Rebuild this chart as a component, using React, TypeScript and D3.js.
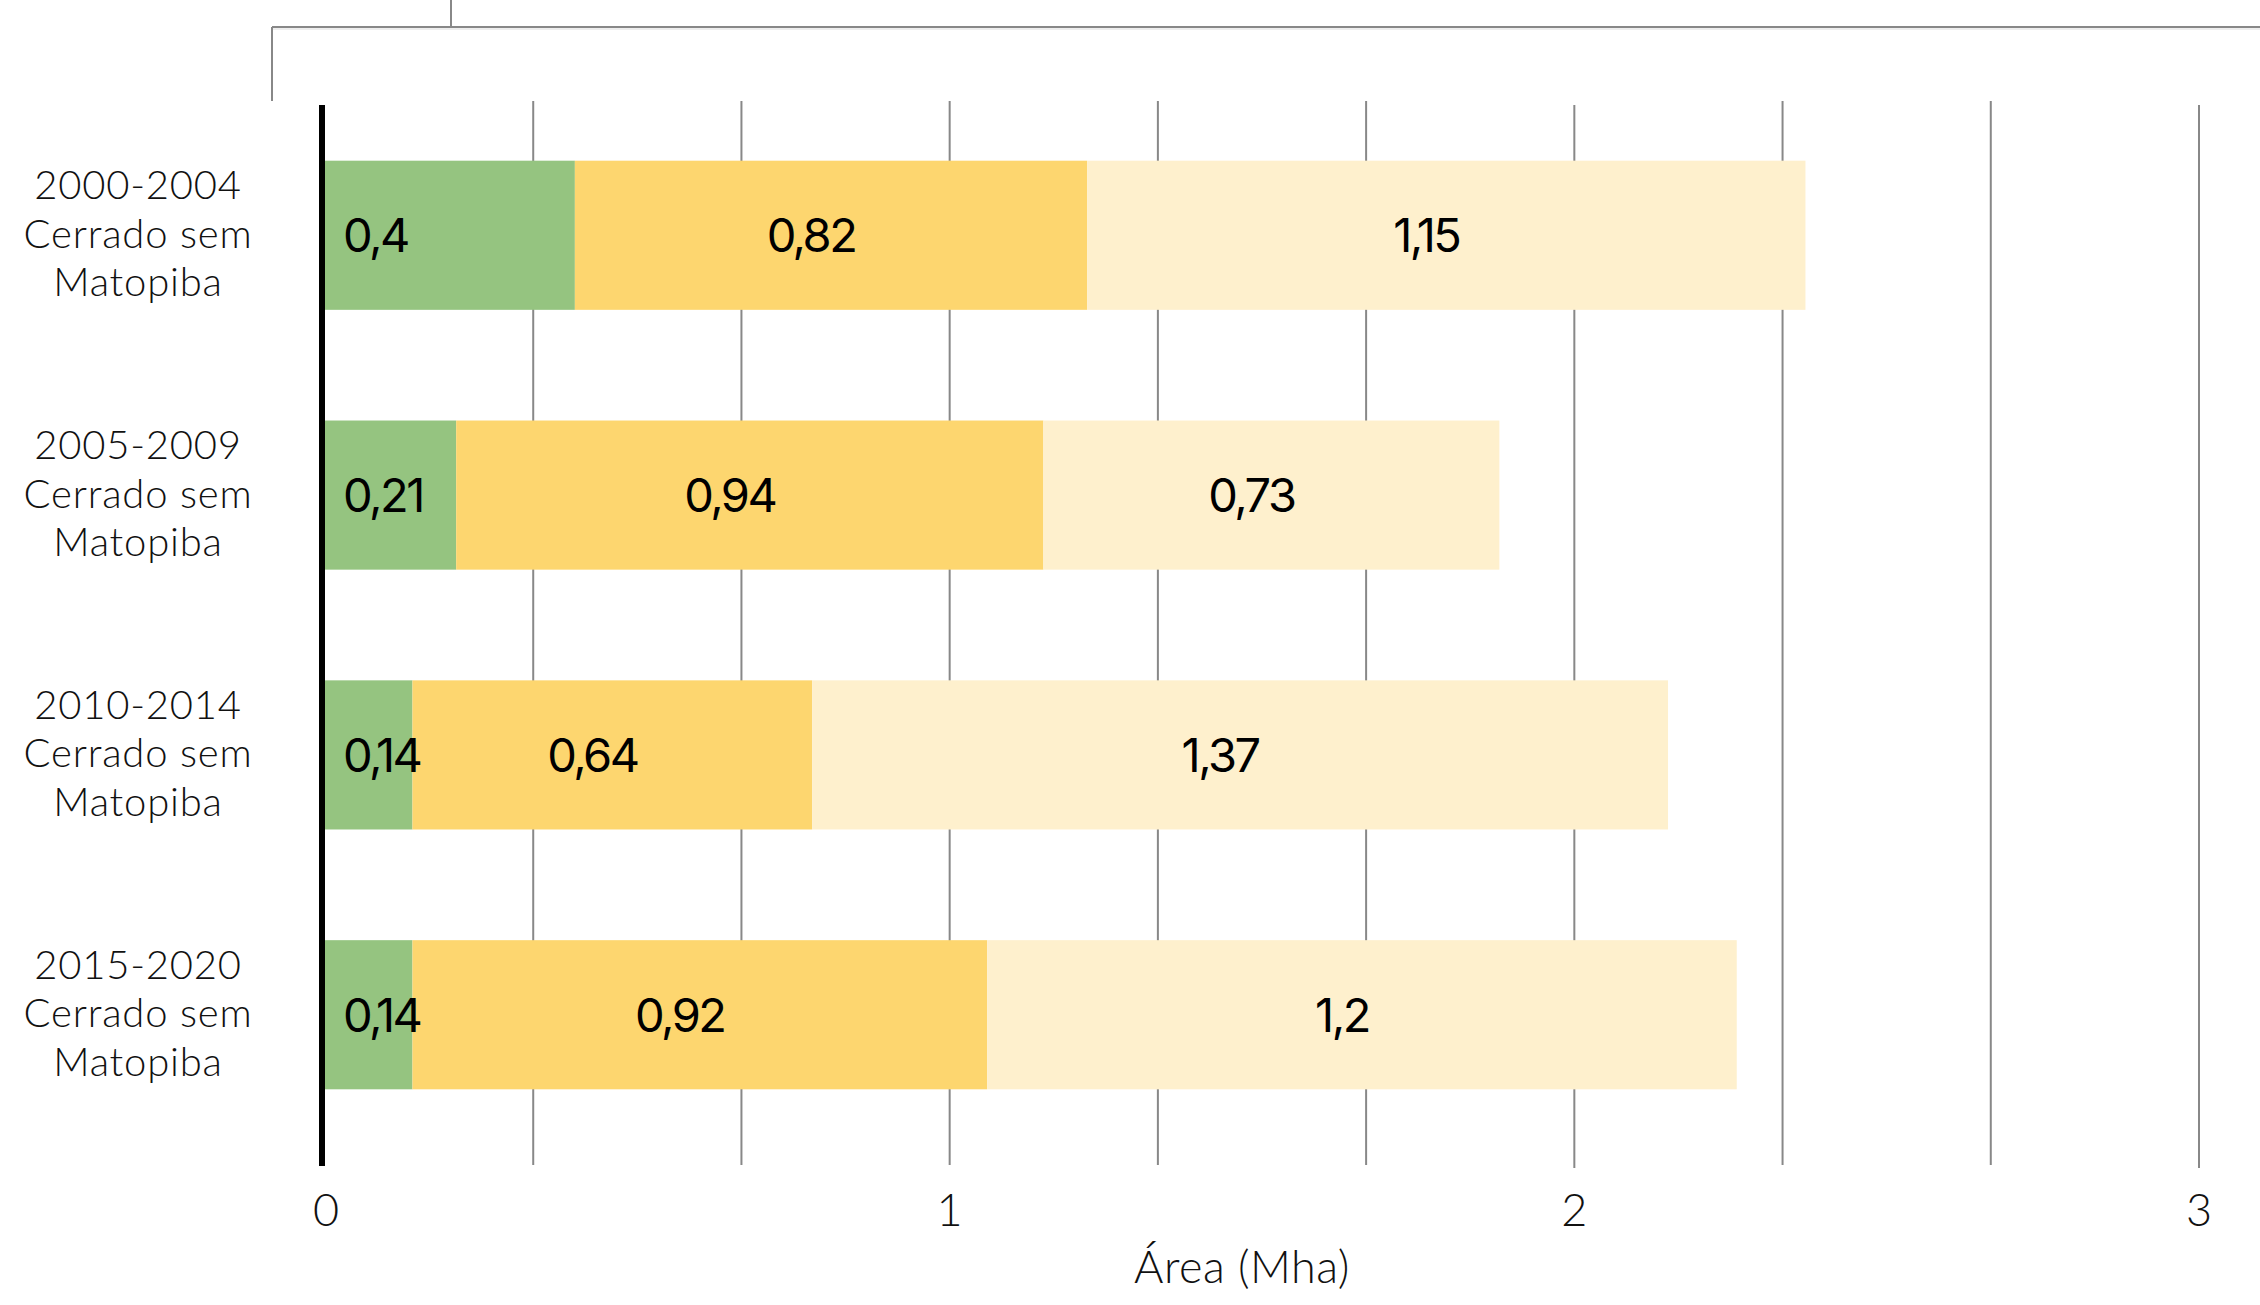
import React, { useEffect } from "react";
import * as d3 from "d3";

const categories = ["2000-2004", "2005-2009", "2010-2014", "2015-2020"];
const regionLines = ["Cerrado sem", "Matopiba"];
const seriesKeys = ["verde", "amarelo", "claro"];
const valuesVerde = [0.4, 0.21, 0.14, 0.14];
const valuesAmarelo = [0.82, 0.94, 0.64, 0.92];
const valuesClaro = [1.15, 0.73, 1.37, 1.2];
const xTickValues = [0, 1, 2, 3];
const xTitle = "Área (Mha)";

const W = 2260;
const H = 1305;
const colors: Record<string, string> = {
  verde: "#95c480",
  amarelo: "#fdd66f",
  claro: "#fef0cd",
};
const FONT_LIGHT = "Lato, 'Open Sans', sans-serif";
const FONT_VALUE = "Inter, 'Open Sans', sans-serif";

export default function App() {
  useEffect(() => {
    document.body.style.margin = "0";
  }, []);

  const rows = categories.map((c, i) => ({
    cat: c,
    verde: valuesVerde[i],
    amarelo: valuesAmarelo[i],
    claro: valuesClaro[i],
  }));
  const stacked = d3.stack<any>().keys(seriesKeys)(rows);

  const x = d3.scaleLinear().domain([0, 3]).range([325, 2199]);
  const y = d3.scaleBand<string>().domain(categories).range([50, 1200]).padding(0.426);
  const bw = y.bandwidth();

  const gridVals = d3.range(1, 10).map((k) => k / 3);
  const fmt = (v: number) => String(v).replace(".", ",");

  return (
    <svg
      width={W}
      height={H}
      style={{ position: "absolute", left: 0, top: 0, background: "#fff" }}
    >
      {/* top bracket */}
      <line x1={272} x2={W} y1={27} y2={27} stroke="#888" strokeWidth={2} />
      <line x1={272} x2={W} y1={29} y2={29} stroke="#ddd" strokeWidth={1} />
      <line x1={272} x2={272} y1={27} y2={101} stroke="#888" strokeWidth={2} />
      <line x1={451} x2={451} y1={0} y2={27} stroke="#888" strokeWidth={2} />

      {/* gridlines */}
      {gridVals.map((v, i) => {
        const major = Math.abs(v - Math.round(v)) < 1e-6;
        return (
          <line
            key={i}
            x1={x(v)}
            x2={x(v)}
            y1={major && v > 1.5 ? 105 : 101}
            y2={major && v > 1.5 ? 1168 : 1165}
            stroke="#888"
            strokeWidth={2}
          />
        );
      })}

      {/* bars */}
      {stacked.map((s) => (
        <g key={s.key} fill={colors[s.key]}>
          {s.map((d, i) => (
            <rect
              key={i}
              x={x(d[0])}
              y={y(categories[i])}
              width={x(d[1]) - x(d[0])}
              height={bw}
            />
          ))}
        </g>
      ))}

      {/* zero axis */}
      <line x1={x(0) - 3} x2={x(0) - 3} y1={105} y2={1166} stroke="#000" strokeWidth={6} />

      {/* value labels */}
      {stacked.map((s, si) =>
        s.map((d, i) => {
          const cy = (y(categories[i]) as number) + bw / 2;
          const v = d[1] - d[0];
          const tx = si === 0 ? x(d[0]) + 18 : (x(d[0]) + x(d[1])) / 2 - 20;
          return (
            <text
              key={s.key + i}
              x={tx}
              y={cy + 17}
              textAnchor={si === 0 ? "start" : "middle"}
              fontFamily={FONT_VALUE}
              fontSize={47}
              fontWeight={400}
              letterSpacing={-2.5}
              fill="#000"
            >
              {fmt(+v.toFixed(2))}
            </text>
          );
        })
      )}

      {/* category labels */}
      {categories.map((c, i) => {
        const cy = (y(c) as number) + bw / 2;
        const lines = [c, ...regionLines];
        return (
          <text
            key={c}
            x={138}
            textAnchor="middle"
            fontFamily={FONT_LIGHT}
            fontSize={40}
            fontWeight={300}
            letterSpacing={0.8}
            fill="#111"
          >
            {lines.map((t, k) => (
              <tspan key={k} x={138} y={cy + 12.5 + (k - 1) * 48.5}>
                {t}
              </tspan>
            ))}
          </text>
        );
      })}

      {/* x tick labels */}
      {xTickValues.map((t) => (
        <text
          key={t}
          x={x(t) + (t === 0 ? 1 : 0)}
          y={1226}
          textAnchor="middle"
          fontFamily={FONT_LIGHT}
          fontSize={45}
          fontWeight={300}
          fill="#111"
        >
          {t}
        </text>
      ))}

      {/* x title */}
      <text
        x={1242}
        y={1283}
        textAnchor="middle"
        fontFamily={FONT_LIGHT}
        fontSize={45}
        fontWeight={300}
        letterSpacing={0.5}
        fill="#111"
      >
        {xTitle}
      </text>
    </svg>
  );
}
